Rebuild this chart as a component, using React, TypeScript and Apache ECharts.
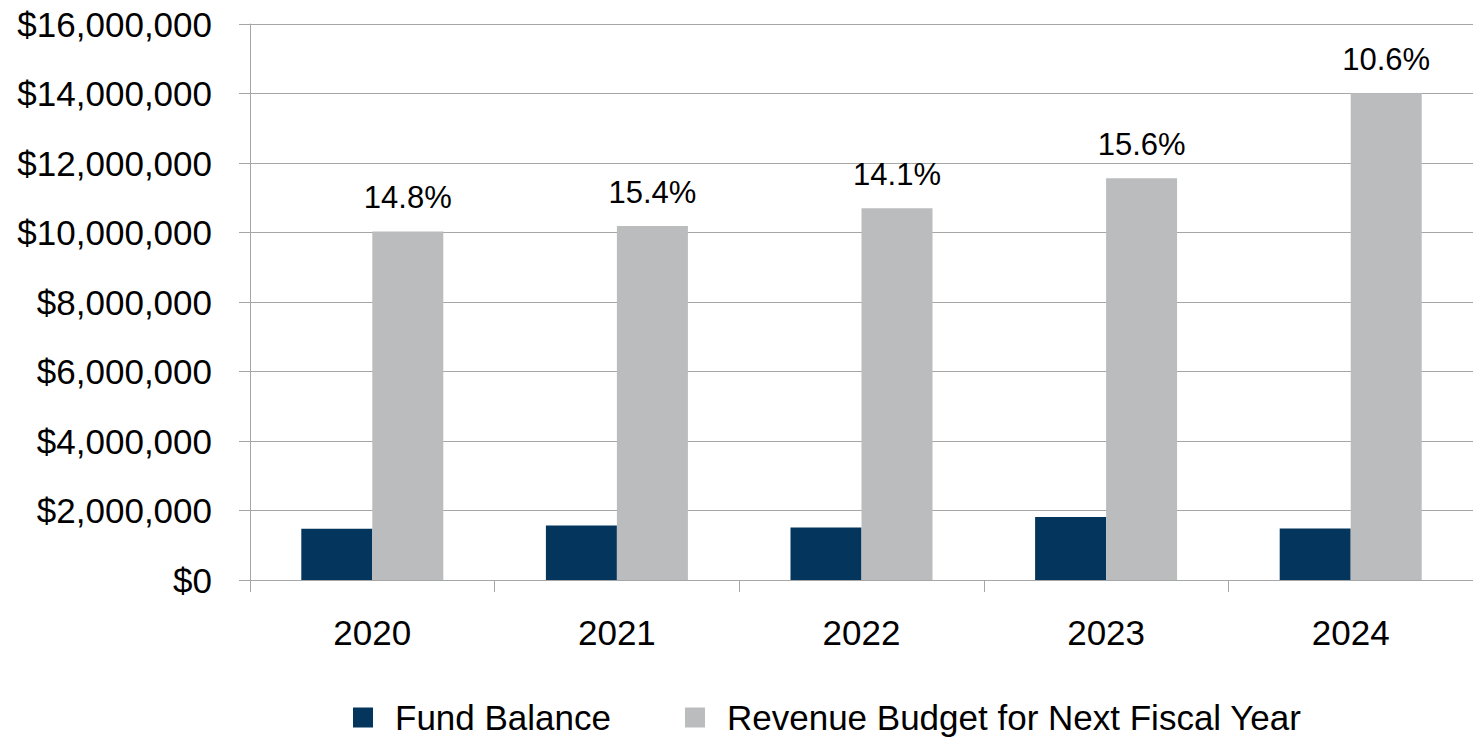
import React, { useEffect, useRef } from "react";
import * as echarts from "echarts";

const years = ["2020", "2021", "2022", "2023", "2024"];
const fundBalance = [1475000, 1570000, 1510000, 1810000, 1480000];
const revenueBudget = [10030000, 10190000, 10700000, 11560000, 14010000];
const pctLabels = ["14.8%", "15.4%", "14.1%", "15.6%", "10.6%"];

const FONT = "'Liberation Sans', Arial, sans-serif";

export default function App() {
  const ref = useRef<HTMLDivElement>(null);
  useEffect(() => {
    if (!ref.current) return;
    const chart = echarts.init(ref.current, undefined, { renderer: "svg" });
    const fmt = (v: number) => "$" + v.toLocaleString("en-US");
    chart.setOption({
      animation: false,
      textStyle: { fontFamily: FONT },
      grid: { left: 250, right: 0, top: 24, bottom: 158, containLabel: false },
      legend: {
        left: 353,
        top: 700,
        padding: 0,
        itemWidth: 20,
        itemHeight: 20,
        itemGap: 74,
        icon: "rect",
        textStyle: { fontFamily: FONT, fontSize: 35, color: "#000", lineHeight: 30, padding: [0, 0, 0, 17] },
        data: ["Fund Balance", "Revenue Budget for Next Fiscal Year"],
      },
      xAxis: {
        type: "category",
        data: years,
        axisLine: { show: true, lineStyle: { color: "#A6A6A6", width: 1 } },
        axisTick: { show: true, alignWithLabel: false, length: 12, lineStyle: { color: "#A6A6A6" } },
        axisLabel: { fontFamily: FONT, fontSize: 35, color: "#000", margin: 35 },
      },
      yAxis: {
        type: "value",
        min: 0,
        max: 16000000,
        interval: 2000000,
        axisLine: { show: true, lineStyle: { color: "#A6A6A6", width: 1 } },
        axisTick: { show: true, length: 11, lineStyle: { color: "#A6A6A6" } },
        splitLine: { show: true, lineStyle: { color: "#A6A6A6", width: 1 } },
        axisLabel: { fontFamily: FONT, fontSize: 35, color: "#000", margin: 38, formatter: fmt },
      },
      series: [
        {
          name: "Fund Balance",
          type: "bar",
          data: fundBalance,
          barWidth: 71,
          barGap: "0%",
          itemStyle: { color: "#03355D" },
        },
        {
          name: "Revenue Budget for Next Fiscal Year",
          type: "bar",
          data: revenueBudget,
          barWidth: 71,
          barGap: "0%",
          itemStyle: { color: "#BBBCBE" },
          label: {
            show: true,
            position: "top",
            distance: 18,
            fontFamily: FONT,
            fontSize: 31,
            color: "#000",
            formatter: (p: any) => pctLabels[p.dataIndex],
          },
        },
      ],
    });
    return () => chart.dispose();
  }, []);
  return (
    <div
      ref={ref}
      style={{ position: "fixed", left: 0, top: 0, width: 1473, height: 738, background: "#fff" }}
    />
  );
}
